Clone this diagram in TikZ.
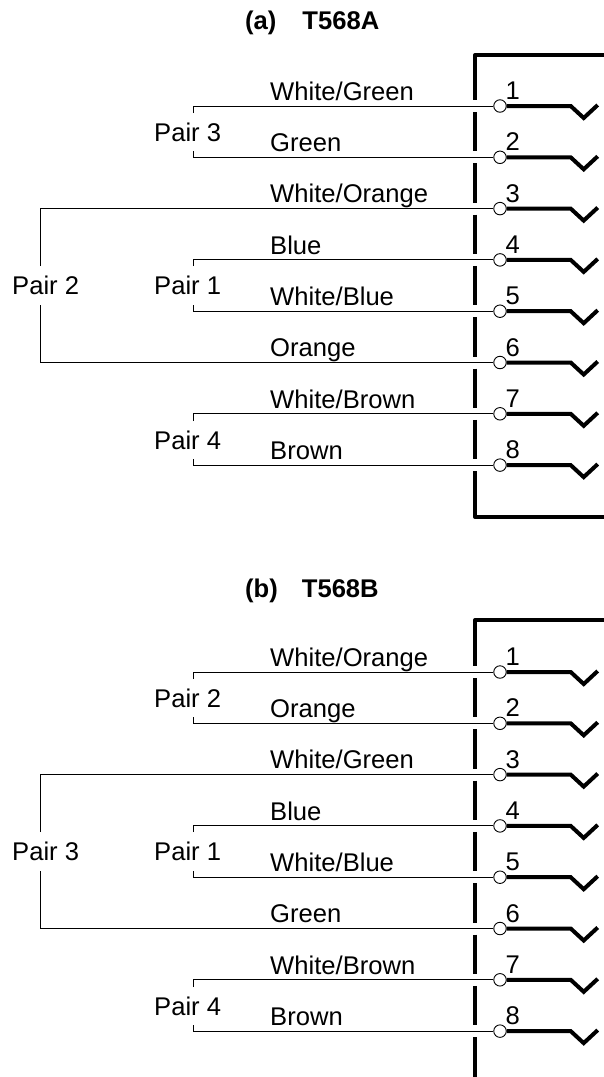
\documentclass[tikz,border=0pt]{standalone}
\usepackage{fontspec}
\setmainfont{Liberation Sans}
\tikzset{
  wire/.style={line width=0.9pt,draw=black},
  wall/.style={line width=4pt,draw=black,line cap=butt,line join=round},
  contact/.style={line width=4pt,draw=black,line join=miter},
  pin/.style={circle,draw=black,fill=white,line width=0.9pt,minimum size=12.5pt,inner sep=0pt},
  lab/.style={font=\fontsize{25.6}{25.6}\selectfont,inner sep=0pt,anchor=base west},
  ttl/.style={font=\fontsize{25.6}{25.6}\selectfont\bfseries,inner sep=0pt,anchor=base west},
}
% #1 prefix, #2 y of pin 1
\newcommand{\jackpins}[2]{%
  \foreach \i [count=\k from 0] in {1,...,8}{
    \pgfmathsetmacro{\yy}{#2+51.3*\k}
    \node[pin] (#1pin\i) at (500,\yy) {};
    \draw[contact] (#1pin\i.east) -- ++(64,0) -- ++(13,12) -- ++(14,-13);
    \node[lab] (#1num\i) at (505.5,\yy-6.5) {\i};
  }%
}
\newcommand{\wallgaps}[2]{%
  \foreach \i [count=\k from 0] in {1,...,7}{
    \pgfmathsetmacro{\ya}{#2+51.3*\k+6}
    \pgfmathsetmacro{\yb}{#2+51.3*\k+45.3}
    \coordinate (#1wa\i) at (475,\ya);
    \coordinate (#1wb\i) at (475,\yb);
    \draw[wall] (#1wa\i) -- (#1wb\i);
  }%
}
\begin{document}
\begin{tikzpicture}[x=1pt,y=-1pt]
\useasboundingbox (0,0) rectangle (604,1077);
\node[ttl] (titlea) at (245,29) {(a)\hspace{26pt}T568A};
\node[ttl] (titleb) at (245,597) {(b)\hspace{24pt}T568B};

% ---------- (a)
\coordinate (aTL) at (604,55);
\coordinate (aW0) at (475,100);
\draw[wall] (aTL) -- (475,55) -- (aW0);
\wallgaps{a}{106}
\coordinate (aW8) at (475,471);
\coordinate (aBR) at (604,517);
\draw[wall] (aW8) -- (475,517) -- (aBR);
\coordinate (aA1) at (193,113); \coordinate (aA2) at (193,151);
\coordinate (aB1) at (40,266);  \coordinate (aB2) at (40,305);
\coordinate (aC1) at (193,266); \coordinate (aC2) at (193,305);
\coordinate (aD1) at (193,421); \coordinate (aD2) at (193,459);
\jackpins{a}{106}
\draw[wire] (aA1) |- (apin1.west);
\draw[wire] (aA2) |- (apin2.west);
\draw[wire] (aB1) |- (apin3.west);
\draw[wire] (aC1) |- (apin4.west);
\draw[wire] (aC2) |- (apin5.west);
\draw[wire] (aB2) |- (apin6.west);
\draw[wire] (aD1) |- (apin7.west);
\draw[wire] (aD2) |- (apin8.west);
\node[lab] (al1) at (270,100) {White/Green};
\node[lab] (al2) at (270,151) {Green};
\node[lab] (al3) at (270,202.5) {White/Orange};
\node[lab] (al4) at (270,254) {Blue};
\node[lab] (al5) at (270,305) {White/Blue};
\node[lab] (al6) at (270,356.5) {Orange};
\node[lab] (al7) at (270,408) {White/Brown};
\node[lab] (al8) at (270,459) {Brown};
\node[lab] (ap3) at (154,141) {Pair 3};
\node[lab] (ap2) at (12,294.5) {Pair 2};
\node[lab] (ap1) at (154,294.5) {Pair 1};
\node[lab] (ap4) at (154,449) {Pair 4};

% ---------- (b)
\coordinate (bTL) at (604,620);
\coordinate (bW0) at (475,666);
\draw[wall] (bTL) -- (475,620) -- (bW0);
\wallgaps{b}{672}
\coordinate (bW8) at (475,1037);
\coordinate (bBR) at (475,1077);
\draw[wall] (bW8) -- (bBR);
\coordinate (bA1) at (193,679); \coordinate (bA2) at (193,717);
\coordinate (bB1) at (40,832);  \coordinate (bB2) at (40,871);
\coordinate (bC1) at (193,832); \coordinate (bC2) at (193,871);
\coordinate (bD1) at (193,987); \coordinate (bD2) at (193,1025);
\jackpins{b}{672}
\draw[wire] (bA1) |- (bpin1.west);
\draw[wire] (bA2) |- (bpin2.west);
\draw[wire] (bB1) |- (bpin3.west);
\draw[wire] (bC1) |- (bpin4.west);
\draw[wire] (bC2) |- (bpin5.west);
\draw[wire] (bB2) |- (bpin6.west);
\draw[wire] (bD1) |- (bpin7.west);
\draw[wire] (bD2) |- (bpin8.west);
\node[lab] (bl1) at (270,666) {White/Orange};
\node[lab] (bl2) at (270,717) {Orange};
\node[lab] (bl3) at (270,768.5) {White/Green};
\node[lab] (bl4) at (270,820) {Blue};
\node[lab] (bl5) at (270,871) {White/Blue};
\node[lab] (bl6) at (270,922.5) {Green};
\node[lab] (bl7) at (270,974) {White/Brown};
\node[lab] (bl8) at (270,1025) {Brown};
\node[lab] (bp2) at (154,707) {Pair 2};
\node[lab] (bp3) at (12,860.5) {Pair 3};
\node[lab] (bp1) at (154,860.5) {Pair 1};
\node[lab] (bp4) at (154,1015) {Pair 4};
\end{tikzpicture}
\end{document}
